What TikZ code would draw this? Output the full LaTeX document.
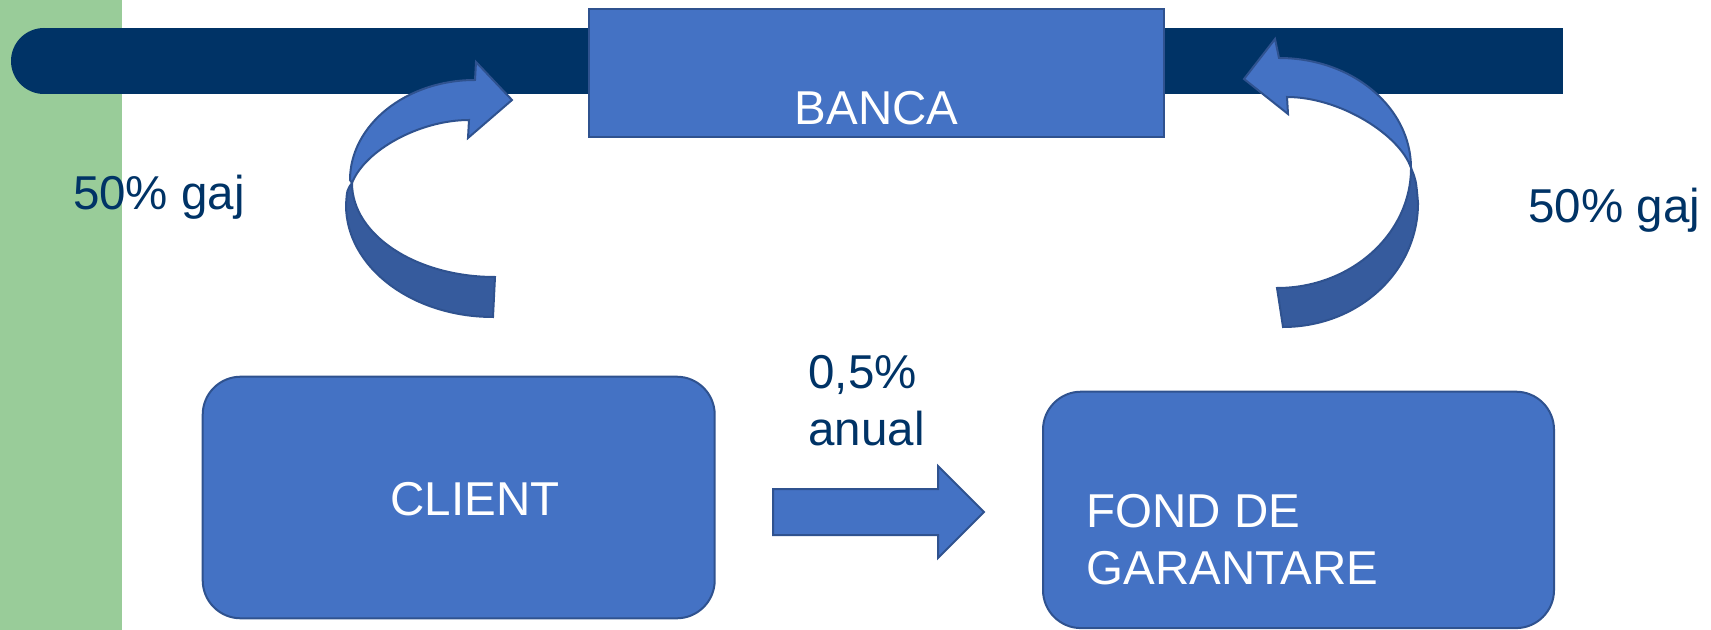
\documentclass[tikz,border=0pt]{standalone}
\usepackage{fontspec}
\setmainfont{Liberation Sans}
\usepackage{xcolor}
\definecolor{boxblue}{HTML}{4472C4}
\definecolor{boxline}{HTML}{2F528F}
\definecolor{navyblue}{HTML}{003366}
\definecolor{stripgreen}{HTML}{99CC99}
\usetikzlibrary{positioning}

\begin{document}
\begin{tikzpicture}[x=0.5pt,y=-0.5pt,
        shapefill/.style={fill=boxblue,draw=boxline,line width=1pt},
        shapeback/.style={fill=boxblue!80!black,draw=boxline,line width=1pt},
        bankbox/.style={shapefill,rectangle,inner sep=0pt,text=white,
            font=\fontsize{23.75}{28.2}\selectfont},
        roundbox/.style={shapefill,rectangle,rounded corners=19pt,inner sep=0pt},
        boxlbl/.style={text=white,inner sep=0pt,align=left,
            font=\fontsize{23.75}{28.2}\selectfont},
        lbl/.style={text=navyblue,inner sep=0pt,align=left,
            font=\fontsize{23.75}{28.2}\selectfont}]
        \useasboundingbox (0,0) rectangle (1711,630);
        \fill[stripgreen] (0,0) rectangle (122,630);
        \fill[navyblue] (44,28) rectangle (1563,94);
        \fill[navyblue] (44,61) circle[radius=33];

        \node[bankbox,minimum width=287.5pt,text height=57.85pt,text depth=5.85pt,
            anchor=base] (banca) at (876.5,125) {BANCA};
        \node[roundbox,minimum width=256pt,minimum height=120.8pt] (client)
            at (458.7,497.5) {};
        \node[boxlbl,anchor=base] (clienttxt) at (475,515) {CLIENT};
        \node[roundbox,minimum width=255.5pt,minimum height=118.2pt] (fond)
            at (1298.5,509.9) {};
        \node[boxlbl,anchor=base west] (fondtxt) at (1086,584)
            {FOND DE\\GARANTARE};

        \node[lbl,anchor=base west] (gajleft) at (72.7,210) {50\% gaj};
        \node[lbl,anchor=base west] (gajright) at (1528,223) {50\% gaj};
        \node[lbl,anchor=base west] (rate) at (808,445) {0,5\%\\anual};

        \draw[shapefill] (773,489) -- (938,489) -- (938,466) -- (984,512)
            -- (938,558) -- (938,535) -- (773,535) -- cycle;

        \draw[shapeback] (352,183) .. controls (347,190) .. (346,205)
            .. controls (346,267) and (412,317) .. (493,317) -- (495,277)
            .. controls (416,277) and (352,235) .. (352,183) -- cycle;
        \draw[shapefill] (475,80) .. controls (406,80) and (350,125) .. (350,180)
            -- (352,183) .. controls (365,150) and (420,120) .. (469,120)
            -- (468,138) -- (512,100) -- (476,62) -- cycle;

        \draw[shapeback] (1411,168) .. controls (1416,180) .. (1418,203)
            .. controls (1418,272) and (1358,327) .. (1283,327) -- (1277,288)
            .. controls (1351,288) and (1411,234) .. (1411,168) -- cycle;
        \draw[shapefill] (1279,58) .. controls (1352,58) and (1411,107) .. (1411,168)
            .. controls (1400,135) and (1340,97) .. (1287,97)
            -- (1288,114) -- (1244,79) -- (1275,39) -- cycle;
\end{tikzpicture}
\end{document}
